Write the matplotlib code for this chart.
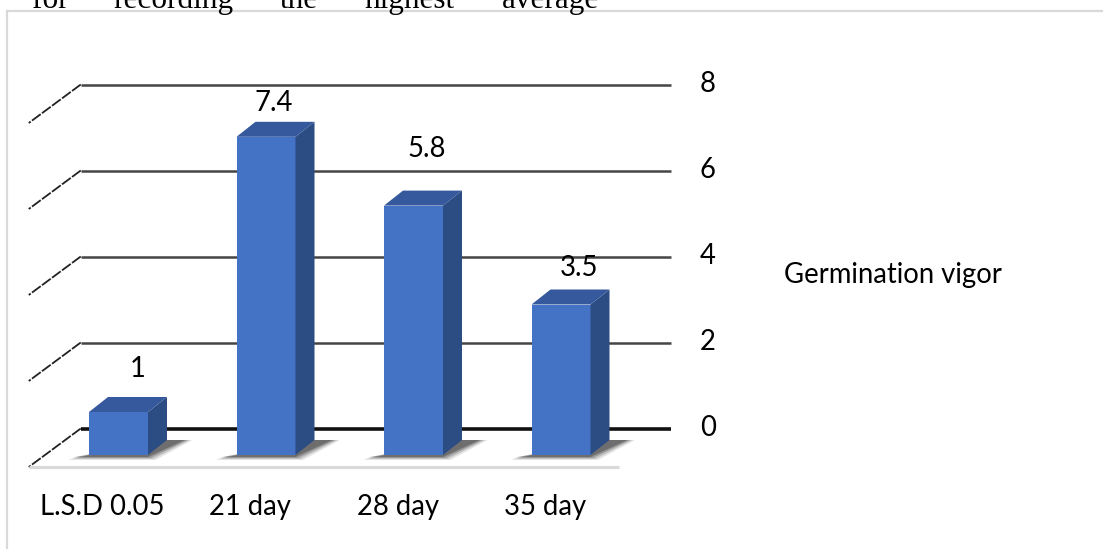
import matplotlib
matplotlib.use("Agg")
import matplotlib.pyplot as plt
from matplotlib.patches import Rectangle, Polygon
from matplotlib.transforms import offset_copy

# ---- data -------------------------------------------------------------
categories = ["L.S.D 0.05", "21 day", "28 day", "35 day"]
vigor = [1.0, 7.4, 5.8, 3.5]
value_labels = ["1", "7.4", "5.8", "3.5"]
y_ticks = [0, 2, 4, 6, 8]
series_name = "Germination vigor"
caption_words = ["for", "recording", "the", "highest", "average"]

# ---- layout / style ---------------------------------------------------
W, H, DPI = 1103, 549, 100
PX_X = 147.5          # pixels per category step
PX_Y = 43.0           # pixels per value unit
X0_PX = 118.5         # pixel x of first category centre (bar front plane)
Y0_PX = 455.0         # pixel y (from top) of value 0 on the bar front plane
BAR_W = 0.4
BAR_DX, BAR_DY = 19, 15          # bar depth (px)
FLOOR_FRONT = (-16, -12)         # floor front edge relative to bar fronts (px)
BACK_WALL = (36, 26.5)           # back wall relative to bar fronts (px)

FRONT_C = "#4472C4"
SIDE_C = "#2C4C84"
TOP_C = "#35599C"
GRID_C = "#454545"
FONT = ["Lato", "DejaVu Sans"]
FS = 19.8

# per-label nudges of value labels (px, relative to top face centre)
label_nudge = [(10, 28), (-2, 19), (4, 42), (9, 22)]
word_x = [32, 113, 280, 365, 502]

fig = plt.figure(figsize=(W / DPI, H / DPI), dpi=DPI)
bottom_px = Y0_PX + 2 * PX_Y
ax = fig.add_axes([0, (H - bottom_px) / H, 1, 12 * PX_Y / H])
ax.set_xlim(-X0_PX / PX_X, (W - X0_PX) / PX_X)
ax.set_ylim(-2, 10)
ax.axis("off")

def shifted(dx, dy):
    return offset_copy(ax.transData, fig=fig, x=dx, y=dy, units="dots")

ddx, ddy = BAR_DX / PX_X, BAR_DY / PX_Y
back = shifted(*BACK_WALL)
floor_front = shifted(*FLOOR_FRONT)

# chart frame
fig.add_artist(Rectangle((7 / W, -0.2), 1.5, 1.2 - 11 / H, transform=fig.transFigure,
                         fill=False, ec="#d9d9d9", lw=1.6))

# back wall gridlines and left side-wall lines
left, right = -0.5, len(categories) - 0.5
wall_dx = (BACK_WALL[0] - FLOOR_FRONT[0]) / PX_X
wall_dy = (BACK_WALL[1] - FLOOR_FRONT[1]) / PX_Y
for v in y_ticks:
    lw = 2.6 if v == 0 else 1.8
    col = "#111111" if v == 0 else GRID_C
    ax.plot([left, right], [v, v], color=col, lw=lw, transform=back,
            solid_capstyle="butt", zorder=1)
    ax.plot([left, left - wall_dx], [v, v - wall_dy], color="#222222", lw=1.3,
            transform=back, linestyle=(0, (6, 0.9)), zorder=1)
    ax.text(right, v, str(v), transform=shifted(BACK_WALL[0] + 37, BACK_WALL[1]),
            ha="center", va="center", fontsize=FS, family=FONT, color="#000000")

# floor front edge
ax.plot([left, right], [0, 0], color="#d9d9d9", lw=2.2, transform=floor_front,
        solid_capstyle="butt", zorder=1)

# bars with soft floor shadows
for i, v in enumerate(vigor):
    xl, xr = i - BAR_W / 2, i + BAR_W / 2
    for k, a in enumerate([0.12, 0.18, 0.26, 0.36]):
        g = (3 - k) * 2.5
        shadow = [(xl - (14 + g) / PX_X, -(2 + g * 0.4) / PX_Y),
                  (xr + g / PX_X, -(2 + g * 0.4) / PX_Y),
                  (xr + ddx + (18 + g) / PX_X, ddy),
                  (xr + ddx - 2 / PX_X, ddy)]
        ax.add_patch(Polygon(shadow, closed=True, fc="#262626", ec="none",
                             alpha=a, zorder=2))
    ax.add_patch(Rectangle((xl, 0), BAR_W, v, fc=FRONT_C, ec="none", zorder=4))
    ax.add_patch(Polygon([(xr, 0), (xr, v), (xr + ddx, v + ddy), (xr + ddx, ddy)],
                         closed=True, fc=SIDE_C, ec="none", zorder=4))
    ax.add_patch(Polygon([(xl, v), (xr, v), (xr + ddx, v + ddy), (xl + ddx, v + ddy)],
                         closed=True, fc=TOP_C, ec="none", zorder=4))
    nx, ny = label_nudge[i]
    ax.text(i + ddx / 2, v + ddy, value_labels[i], transform=shifted(nx, ny),
            ha="center", va="center", fontsize=FS, family=FONT, color="#000000",
            zorder=5)
    ax.text(i, 0, categories[i], transform=shifted(-16, -52), ha="center",
            va="center", fontsize=FS, family=FONT, color="#000000")

# series name
fig.text(784 / W, 1 - 275 / H, series_name, ha="left", va="center",
         fontsize=FS, family=FONT, color="#000000")

# running text above the chart, clipped by the page edge
for wx, w in zip(word_x, caption_words):
    fig.text(wx / W, 1 - 8 / H, w, ha="left", va="baseline", fontsize=22.5,
             family=["Liberation Serif", "DejaVu Serif"], color="#000000")

fig.savefig("out.png", dpi=DPI, facecolor="white")
